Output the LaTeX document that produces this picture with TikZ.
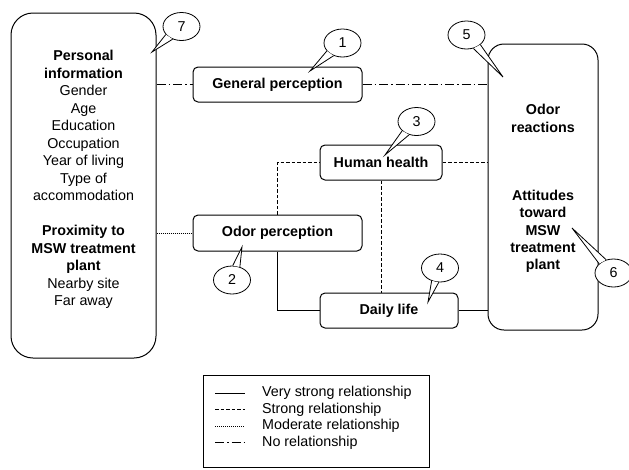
\documentclass[tikz,border=0pt]{standalone}
\usepackage{fontspec}
\setmainfont{Liberation Sans}
\usetikzlibrary{shapes.geometric}

\begin{document}
\begin{tikzpicture}[x=1pt, y=-1pt]
    \tikzstyle{every node}=[font=\fontsize{14.3}{17.5}\selectfont, align=center]
    \tikzset{
        box/.style={draw, line width=1pt, rounded corners=5pt, inner sep=0pt, font=\fontsize{14.3}{17.5}\selectfont\bfseries},
        bigbox/.style={box, rounded corners=22pt},
        callout/.style={draw, ellipse, fill=white, line width=0.8pt, minimum width=37pt, minimum height=28pt, inner sep=0pt},
        vstrong/.style={line width=0.8pt},
        strong/.style={line width=0.8pt, dash pattern=on 3.5pt off 2pt},
        moderate/.style={line width=0.8pt, dash pattern=on 1pt off 1pt},
        norel/.style={line width=0.8pt, dash pattern=on 9pt off 3pt on 1.5pt off 3pt}
        }
    \useasboundingbox (0,0) rectangle (629,469);

    %personal information
    \node (info) [bigbox, minimum width=145pt, minimum height=345pt] at (83.5,185.5) {};
    \node (infotext) [yshift=6pt] at (info.center) {\textbf{Personal}\\ \textbf{information}\\ Gender\\ Age\\ Education\\ Occupation\\ Year of living\\ Type of\\ accommodation\\[17.5pt] \textbf{Proximity to}\\ \textbf{MSW treatment}\\ \textbf{plant}\\ Nearby site\\ Far away};

    %perceptions
    \node (gp) [box, minimum width=169pt, minimum height=35pt] at (277.5,84.5) {General perception};
    \node (op) [box, minimum width=169pt, minimum height=36pt] at (277.5,233) {Odor perception};
    \node (hh) [box, minimum width=122pt, minimum height=35pt] at (381,162.5) {Human health};
    \node (dl) [box, minimum width=138pt, minimum height=35pt] at (389,310.5) {Daily life};

    %reactions and attitudes
    \node (react) [bigbox, rounded corners=16pt, minimum width=110pt, minimum height=286pt] at (543,187) {};
    \node (reacttext) [font=\fontsize{14.3}{17.3}\selectfont\bfseries] at (543,118.5) {Odor\\reactions};
    \node (attitude) [font=\fontsize{14.3}{17.3}\selectfont\bfseries] at (543,231.5) {Attitudes\\toward\\MSW\\treatment\\plant};

    %relationships
    \draw[norel] (info.east |- gp.west) -- (gp.west);
    \draw[norel] (gp.east) -- (gp.east -| react.west);
    \draw[moderate] (info.east |- op.west) -- (op.west);
    \draw[strong] (op.north) |- (hh.west);
    \draw[strong] (hh.east) -- (hh.east -| react.west);
    \draw[strong] (hh.south) -- (hh.south |- dl.north);
    \draw[vstrong] (op.south) |- (dl.west);
    \draw[vstrong] (dl.east) -- (dl.east -| react.west);

    %callouts
    \node (c1) [callout] at (342.5,43) {1};
    \coordinate (t1) at (310,71);
    \fill[white] (c1.207) -- (t1) -- (c1.235) -- cycle;
    \draw[line width=0.8pt] (c1.207) -- (t1) -- (c1.235);

    \node (c2) [callout] at (232,280) {2};
    \coordinate (t2) at (242,247);
    \fill[white] (c2.59) -- (t2) -- (c2.87) -- cycle;
    \draw[line width=0.8pt] (c2.59) -- (t2) -- (c2.87);

    \node (c3) [callout] at (416.5,121.5) {3};
    \coordinate (t3) at (385,155);
    \fill[white] (c3.213) -- (t3) -- (c3.241) -- cycle;
    \draw[line width=0.8pt] (c3.213) -- (t3) -- (c3.241);

    \node (c4) [callout] at (440,268) {4};
    \coordinate (t4) at (428,302);
    \fill[white] (c4.237) -- (t4) -- (c4.265) -- cycle;
    \draw[line width=0.8pt] (c4.237) -- (t4) -- (c4.265);

    \node (c5) [callout] at (466.5,35) {5};
    \coordinate (t5) at (503,77);
    \fill[white] (c5.297) -- (t5) -- (c5.325) -- cycle;
    \draw[line width=0.8pt] (c5.297) -- (t5) -- (c5.325);

    \node (c6) [callout] at (613.5,273) {6};
    \coordinate (t6) at (572,228);
    \fill[white] (c6.119) -- (t6) -- (c6.147) -- cycle;
    \draw[line width=0.8pt] (c6.119) -- (t6) -- (c6.147);

    \node (c7) [callout] at (181.5,26.5) {7};
    \coordinate (t7) at (152,52);
    \fill[white] (c7.207) -- (t7) -- (c7.235) -- cycle;
    \draw[line width=0.8pt] (c7.207) -- (t7) -- (c7.235);

    %legend
    \node (legend) [draw, line width=0.8pt, minimum width=226pt, minimum height=92pt, inner sep=0pt] at (316,421) {};
    \node (k1) [anchor=west, inner sep=0pt] at (262,393) {Very strong relationship};
    \node (k2) [anchor=west, inner sep=0pt] at (262,409.5) {Strong relationship};
    \node (k3) [anchor=west, inner sep=0pt] at (262,426) {Moderate relationship};
    \node (k4) [anchor=west, inner sep=0pt] at (262,442.5) {No relationship};
    \draw[vstrong] ([xshift=-47pt]k1.west) -- ([xshift=-17pt]k1.west);
    \draw[strong] ([xshift=-47pt]k2.west) -- ([xshift=-17pt]k2.west);
    \draw[moderate] ([xshift=-47pt]k3.west) -- ([xshift=-17pt]k3.west);
    \draw[norel] ([xshift=-47pt]k4.west) -- ([xshift=-17pt]k4.west);
\end{tikzpicture}
\end{document}
